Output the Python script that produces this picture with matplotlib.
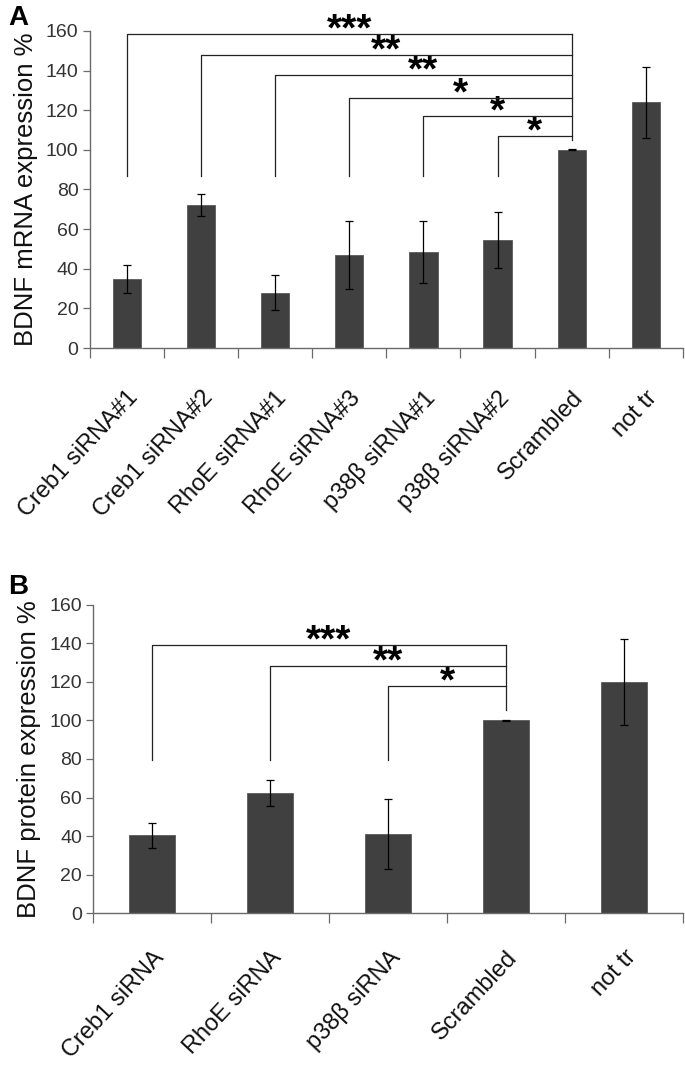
import matplotlib
matplotlib.use("Agg")
import matplotlib.pyplot as plt
import numpy as np

plt.rcParams['font.family'] = ['Liberation Sans', 'DejaVu Sans']

# --- Panel A data (mRNA) ---
labels_a = ['Creb1 siRNA#1', 'Creb1 siRNA#2', 'RhoE siRNA#1', 'RhoE siRNA#3',
            'p38β siRNA#1', 'p38β siRNA#2', 'Scrambled', 'not tr']
values_a = [35, 72, 28, 47, 48.5, 54.5, 100, 124]
errors_a = [7, 5.5, 9, 17, 15.5, 14, 0.3, 18]
# significance brackets: left group index, bracket height, stars
sig_left_a = [0, 1, 2, 3, 4, 5]
sig_height_a = [158.6, 147.9, 137.7, 126.4, 117.3, 107.1]
sig_stars_a = ['***', '**', '**', '*', '*', '*']

# --- Panel B data (protein) ---
labels_b = ['Creb1 siRNA', 'RhoE siRNA', 'p38β siRNA', 'Scrambled', 'not tr']
values_b = [40.3, 62.3, 41, 100, 120]
errors_b = [6.5, 6.7, 18, 0.2, 22.5]
sig_left_b = [0, 1, 2]
sig_height_b = [139.3, 128.3, 117.9]
sig_stars_b = ['***', '**', '*']

BAR_COLOR = '#404040'
AXIS_COLOR = '#6a6a6a'


def draw_panel(ax, labels, values, errors, sig_left, sig_height, sig_stars,
               ref_idx, drop_to, ref_drop_to, ylabel, bar_width, xpad):
    x = np.arange(len(labels))
    ax.bar(x, values, width=bar_width, color=BAR_COLOR, edgecolor='#5a5a5a',
           linewidth=0.6, zorder=2)
    ax.errorbar(x, values, yerr=errors, fmt='none', ecolor='black',
                elinewidth=0.9, capsize=3, capthick=0.9, zorder=3)

    ax.set_xlim(-0.5, len(labels) - 0.5)
    ax.set_ylim(0, 160)
    ax.set_yticks(np.arange(0, 161, 20))
    ax.tick_params(axis='y', labelsize=14, length=5, width=0.9,
                   color=AXIS_COLOR, labelcolor='#333333', pad=3)
    # category labels at centers, tick marks at boundaries
    ax.set_xticks(x)
    ax.set_xticklabels(labels, rotation=47, ha='right', rotation_mode='anchor',
                       fontsize=17, color='#111111')
    ax.tick_params(axis='x', which='major', length=0, pad=xpad)
    ax.set_xticks(np.arange(-0.5, len(labels)), minor=True)
    ax.tick_params(axis='x', which='minor', length=7, width=0.9,
                   color=AXIS_COLOR)
    for s in ['top', 'right']:
        ax.spines[s].set_visible(False)
    for s in ['left', 'bottom']:
        ax.spines[s].set_color(AXIS_COLOR)
        ax.spines[s].set_linewidth(1.0)
    ax.set_ylabel(ylabel, fontsize=18.5, color='#111111', labelpad=6)

    # significance brackets
    top = max(sig_height)
    ax.plot([ref_idx, ref_idx], [ref_drop_to, top], color='#222222',
            lw=0.9, clip_on=False, zorder=4)
    for li, h, st in zip(sig_left, sig_height, sig_stars):
        ax.plot([li, li, ref_idx], [drop_to, h, h], color='#222222', lw=0.9,
                clip_on=False, zorder=4)
        ax.text((li + ref_idx) / 2, h - 7.5, st, ha='center', va='bottom',
                fontsize=28, fontweight='bold', clip_on=False)


fig = plt.figure(figsize=(6.85, 10.66), dpi=100)

ax_a = fig.add_axes([0.131, 0.6735, 0.866, 0.2975])
draw_panel(ax_a, labels_a, values_a, errors_a, sig_left_a, sig_height_a,
           sig_stars_a, ref_idx=6, drop_to=87, ref_drop_to=105,
           ylabel='BDNF mRNA expression %', bar_width=0.38, xpad=28)

ax_b = fig.add_axes([0.136, 0.1435, 0.861, 0.289])
draw_panel(ax_b, labels_b, values_b, errors_b, sig_left_b, sig_height_b,
           sig_stars_b, ref_idx=3, drop_to=79.4, ref_drop_to=105.4,
           ylabel='BDNF protein expression %', bar_width=0.39, xpad=24)

fig.text(0.012, 0.995, 'A', fontsize=20, fontweight='bold', va='top')
fig.text(0.012, 0.462, 'B', fontsize=20, fontweight='bold', va='top')

fig.savefig('out.png', dpi=100)
